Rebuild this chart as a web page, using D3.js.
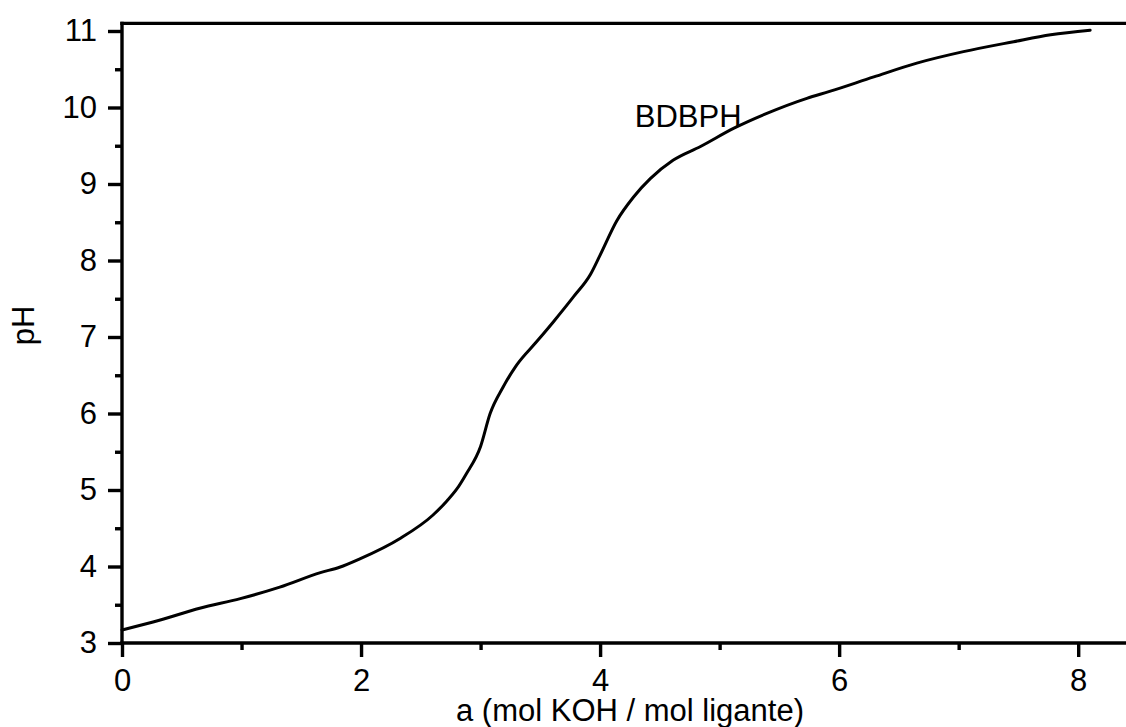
<!DOCTYPE html>
<html>
<head>
<meta charset="utf-8">
<script src="https://cdn.jsdelivr.net/npm/d3@7"></script>
<style>
  body { margin: 0; background: #fff; }
  svg { display: block; font-family: Arial, "Liberation Sans", sans-serif; }
</style>
</head>
<body>
<svg id="chart" width="1126" height="727"></svg>
<script>
// titration curve
const aValues = [0, 0.32, 0.65, 0.99, 1.32, 1.66, 1.82, 1.99, 2.33, 2.60, 2.72, 2.80, 2.88, 3.00, 3.08, 3.19, 3.30, 3.47, 3.61, 3.78, 3.92, 4.00, 4.14, 4.28, 4.42, 4.61, 4.84, 5.12, 5.39, 5.73, 5.92, 6.29, 6.65, 7.04, 7.46, 7.77, 8.10];
const pHValues = [3.17, 3.30, 3.455, 3.58, 3.73, 3.92, 3.99, 4.10, 4.37, 4.67, 4.86, 5.01, 5.21, 5.57, 6.00, 6.35, 6.63, 6.94, 7.20, 7.53, 7.82, 8.07, 8.52, 8.83, 9.07, 9.31, 9.49, 9.73, 9.92, 10.12, 10.21, 10.40, 10.58, 10.73, 10.86, 10.95, 11.01];
const xTicks = [0, 2, 4, 6, 8];
const xMinor = [1, 3, 5, 7];
const yTicks = [3, 4, 5, 6, 7, 8, 9, 10, 11];
const yMinor = [3.5, 4.5, 5.5, 6.5, 7.5, 8.5, 9.5, 10.5];
const seriesName = 'BDBPH';

const svg = d3.select('#chart');
const plotLeft = 122, plotRight = 1126, plotTop = 23.35, plotBottom = 643;

const x = d3.scaleLinear().domain([0, 8.4]).range([plotLeft, plotRight]);
const y = d3.scaleLinear().domain([3, 11.1]).range([plotBottom, plotTop]);

const fs = 31;
const axisW = 3.4;

// major + minor ticks
const xAxis = svg.append('g').attr('transform', `translate(0,${plotBottom})`);
xAxis.call(d3.axisBottom(x).tickValues(xMinor).tickSize(7).tickFormat(''));
xAxis.select('.domain').remove();
const xAxisMaj = svg.append('g').attr('transform', `translate(0,${plotBottom})`)
  .call(d3.axisBottom(x).tickValues(xTicks).tickSize(14).tickPadding(12).tickFormat(d3.format('d')));
xAxisMaj.select('.domain').remove();

const yAxis = svg.append('g').attr('transform', `translate(${plotLeft},0)`);
yAxis.call(d3.axisLeft(y).tickValues(yMinor).tickSize(7).tickFormat(''));
yAxis.select('.domain').remove();
const yAxisMaj = svg.append('g').attr('transform', `translate(${plotLeft},0)`)
  .call(d3.axisLeft(y).tickValues(yTicks).tickSize(14).tickPadding(11).tickFormat(d3.format('d')));
yAxisMaj.select('.domain').remove();

svg.selectAll('.tick line').attr('stroke', '#000').attr('stroke-width', axisW);
svg.selectAll('.tick text')
  .attr('font-size', fs)
  .attr('font-family', 'Arial, "Liberation Sans", sans-serif')
  .attr('fill', '#000');

// frame lines (left, bottom, top)
const frame = [
  [plotLeft, plotTop - axisW / 2, plotLeft, plotBottom + axisW / 2],
  [plotLeft - axisW / 2, plotBottom, plotRight, plotBottom],
  [plotLeft - axisW / 2, plotTop, plotRight, plotTop]
];
svg.selectAll('.frame').data(frame).enter().append('line')
  .attr('class', 'frame')
  .attr('x1', d => d[0]).attr('y1', d => d[1])
  .attr('x2', d => d[2]).attr('y2', d => d[3])
  .attr('stroke', '#000').attr('stroke-width', axisW);

// curve
const data = aValues.map((a, i) => ({ a, pH: pHValues[i] }));
const line = d3.line()
  .x(d => x(d.a))
  .y(d => y(d.pH))
  .curve(d3.curveMonotoneX);

svg.append('path')
  .datum(data)
  .attr('d', line)
  .attr('fill', 'none')
  .attr('stroke', '#000')
  .attr('stroke-width', 3)
  .attr('stroke-linecap', 'round');

// series label
svg.append('text')
  .attr('x', x(4.29))
  .attr('y', 127)
  .attr('font-size', fs)
  .attr('fill', '#000')
  .text(seriesName);

// axis titles
svg.append('text')
  .attr('x', 630)
  .attr('y', 721)
  .attr('text-anchor', 'middle')
  .attr('font-size', fs)
  .attr('fill', '#000')
  .text('a (mol KOH / mol ligante)');

svg.append('text')
  .attr('transform', `translate(34,${y(7.15)}) rotate(-90)`)
  .attr('text-anchor', 'middle')
  .attr('font-size', fs)
  .attr('fill', '#000')
  .text('pH');
</script>
</body>
</html>
